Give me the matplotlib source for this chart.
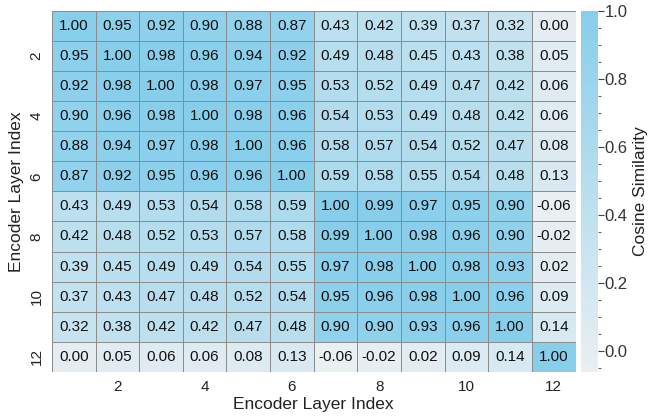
import numpy as np
import matplotlib
matplotlib.use("Agg")
import matplotlib.pyplot as plt
from matplotlib.colors import LinearSegmentedColormap
from matplotlib.ticker import MultipleLocator

plt.rcParams["font.family"] = ["Liberation Sans", "DejaVu Sans"]

# ===== DATA =====
layers = list(range(1, 13))
tick_layers = [2, 4, 6, 8, 10, 12]

sim = np.array([
    [1.00, 0.95, 0.92, 0.90, 0.88, 0.87, 0.43, 0.42, 0.39, 0.37, 0.32, 0.00],
    [0.95, 1.00, 0.98, 0.96, 0.94, 0.92, 0.49, 0.48, 0.45, 0.43, 0.38, 0.05],
    [0.92, 0.98, 1.00, 0.98, 0.97, 0.95, 0.53, 0.52, 0.49, 0.47, 0.42, 0.06],
    [0.90, 0.96, 0.98, 1.00, 0.98, 0.96, 0.54, 0.53, 0.49, 0.48, 0.42, 0.06],
    [0.88, 0.94, 0.97, 0.98, 1.00, 0.96, 0.58, 0.57, 0.54, 0.52, 0.47, 0.08],
    [0.87, 0.92, 0.95, 0.96, 0.96, 1.00, 0.59, 0.58, 0.55, 0.54, 0.48, 0.13],
    [0.43, 0.49, 0.53, 0.54, 0.58, 0.59, 1.00, 0.99, 0.97, 0.95, 0.90, -0.06],
    [0.42, 0.48, 0.52, 0.53, 0.57, 0.58, 0.99, 1.00, 0.98, 0.96, 0.90, -0.02],
    [0.39, 0.45, 0.49, 0.49, 0.54, 0.55, 0.97, 0.98, 1.00, 0.98, 0.93, 0.02],
    [0.37, 0.43, 0.47, 0.48, 0.52, 0.54, 0.95, 0.96, 0.98, 1.00, 0.96, 0.09],
    [0.32, 0.38, 0.42, 0.42, 0.47, 0.48, 0.90, 0.90, 0.93, 0.96, 1.00, 0.14],
    [0.00, 0.05, 0.06, 0.06, 0.08, 0.13, -0.06, -0.02, 0.02, 0.09, 0.14, 1.00],
])

# ===== PLOT =====
cmap = LinearSegmentedColormap.from_list("skyish", ["#eaeff2", "#87ceeb"])

fig = plt.figure(figsize=(6.57, 4.16), dpi=100)
ax = fig.add_axes([0.079, 0.106, 0.797, 0.868])
cax = fig.add_axes([0.884, 0.106, 0.026, 0.868])

mesh = ax.pcolormesh(sim, cmap=cmap, vmin=sim.min(), vmax=sim.max(),
                     edgecolors="#8c8c8c", linewidth=0.6)
ax.set_xlim(0, 12)
ax.set_ylim(12, 0)

for i in range(len(layers)):
    for j in range(len(layers)):
        ax.text(j + 0.5, i + 0.5, f"{sim[i, j]:.2f}", ha="center", va="center",
                fontsize=11, color="#111111")

ax.set_xticks([t - 0.5 for t in tick_layers])
ax.set_xticklabels(tick_layers, fontsize=11, color="#222222")
ax.set_yticks([t - 0.5 for t in tick_layers])
ax.set_yticklabels(tick_layers, fontsize=11, color="#222222", rotation=90, va="center")
ax.tick_params(length=0, pad=6)
for s in ax.spines.values():
    s.set_visible(False)

ax.set_xlabel("Encoder Layer Index", fontsize=12.5, color="#222222", labelpad=2)
ax.set_ylabel("Encoder Layer Index", fontsize=12.5, color="#222222", labelpad=4)

cb = fig.colorbar(mesh, cax=cax)
cb.outline.set_visible(False)
cb.set_ticks([0.0, 0.2, 0.4, 0.6, 0.8, 1.0])
cb.ax.yaxis.set_minor_locator(MultipleLocator(0.05))
cb.ax.tick_params(which="major", length=4, width=0.8, color="#444444",
                  labelsize=12, labelcolor="#333333", pad=1)
cb.ax.tick_params(which="minor", length=2, width=0.6, color="#444444")
cb.set_label("Cosine Similarity", fontsize=12.5, color="#222222", labelpad=4)

plt.savefig("out.png", dpi=100)
